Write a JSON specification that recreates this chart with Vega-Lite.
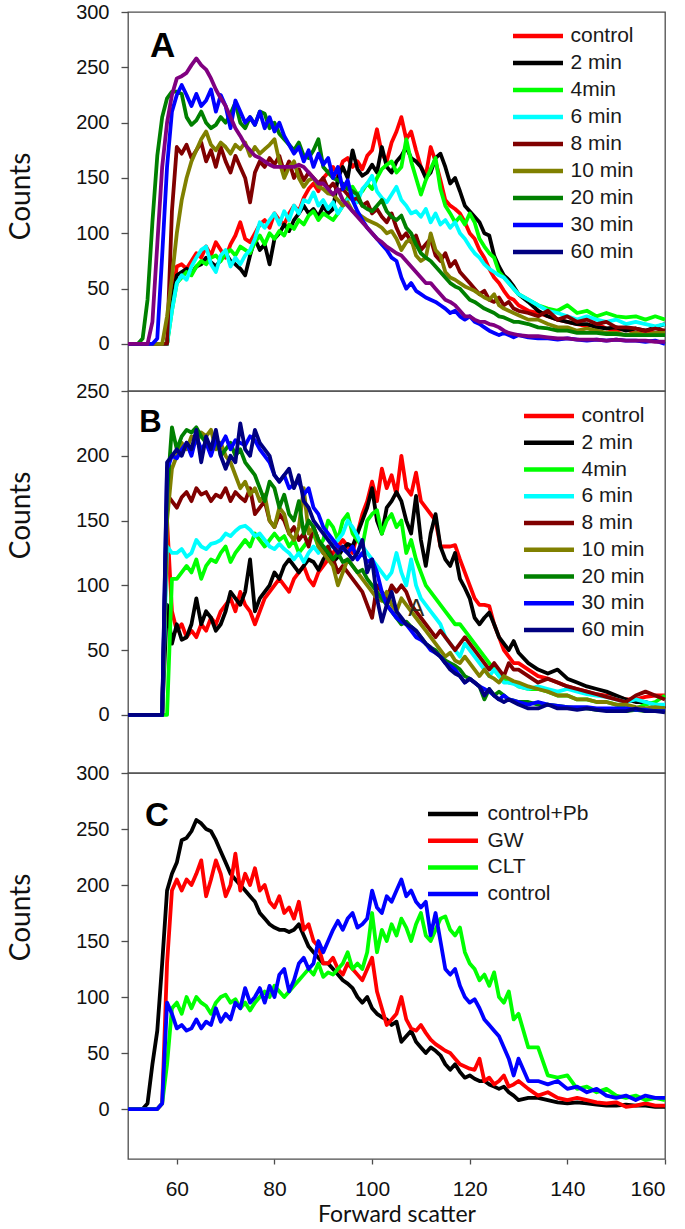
{
"$schema": "https://vega.github.io/schema/vega-lite/v6.json",
"background": "white",
"padding": {"left": 6, "top": 1, "right": 0, "bottom": 0},
"spacing": 0,
"bounds": "flush",
"resolve": {"scale": {"color": "independent"}, "legend": {"color": "independent"}},
"config": {
  "font": "Liberation Sans",
  "view": {"stroke": "#4d4d4d", "strokeWidth": 1.3},
  "axis": {"grid": false, "domain": false, "tickColor": "#4d4d4d", "tickWidth": 1.3, "labelColor": "#111111", "labelFont": "Liberation Sans", "titleFont": "Lato", "titleFontWeight": "normal", "titleColor": "#111111"},
  "axisY": {"tickSize": 7, "labelFontSize": 20, "labelPadding": 12, "titleFontSize": 28},
  "axisX": {"tickSize": 5, "labelFontSize": 21, "labelPadding": 14, "titleFontSize": 23, "titlePadding": 4}
},
"datasets": {
"A": [
{"x":50,"control":0,"2 min":0,"4min":0,"6 min":0,"8 min":0,"10 min":0,"20 min":0,"30 min":0,"60 min":0},
{"x":52,"control":0,"2 min":0,"4min":0,"6 min":0,"8 min":0,"10 min":0,"20 min":0,"30 min":0,"60 min":0},
{"x":53,"control":0,"2 min":0,"4min":0,"6 min":0,"8 min":0,"10 min":0,"20 min":5,"30 min":0,"60 min":0},
{"x":54,"control":0,"2 min":0,"4min":0,"6 min":0,"8 min":0,"10 min":0,"20 min":40,"30 min":0,"60 min":0},
{"x":55,"control":0,"2 min":0,"4min":0,"6 min":0,"8 min":0,"10 min":0,"20 min":110,"30 min":0,"60 min":20},
{"x":56,"control":0,"2 min":0,"4min":0,"6 min":0,"8 min":0,"10 min":0,"20 min":170,"30 min":5,"60 min":90},
{"x":57,"control":0,"2 min":0,"4min":0,"6 min":0,"8 min":0,"10 min":0,"20 min":205,"30 min":80,"60 min":160},
{"x":58,"control":0,"2 min":0,"4min":0,"6 min":0,"8 min":0,"10 min":25,"20 min":222,"30 min":160,"60 min":200},
{"x":59,"control":40,"2 min":40,"4min":30,"6 min":30,"8 min":120,"10 min":60,"20 min":228,"30 min":210,"60 min":225},
{"x":60,"control":70,"2 min":62,"4min":55,"6 min":55,"8 min":178,"10 min":100,"20 min":228,"30 min":225,"60 min":240},
{"x":61,"control":72,"2 min":65,"4min":60,"6 min":62,"8 min":172,"10 min":130,"20 min":226,"30 min":234,"60 min":242},
{"x":62,"control":68,"2 min":68,"4min":65,"6 min":58,"8 min":180,"10 min":150,"20 min":205,"30 min":225,"60 min":245},
{"x":63,"control":75,"2 min":64,"4min":62,"6 min":70,"8 min":168,"10 min":165,"20 min":198,"30 min":215,"60 min":252},
{"x":64,"control":82,"2 min":70,"4min":70,"6 min":78,"8 min":175,"10 min":175,"20 min":202,"30 min":226,"60 min":258},
{"x":65,"control":78,"2 min":72,"4min":75,"6 min":85,"8 min":182,"10 min":185,"20 min":210,"30 min":215,"60 min":252},
{"x":66,"control":88,"2 min":78,"4min":72,"6 min":88,"8 min":165,"10 min":192,"20 min":200,"30 min":220,"60 min":248},
{"x":67,"control":80,"2 min":74,"4min":78,"6 min":72,"8 min":175,"10 min":180,"20 min":195,"30 min":230,"60 min":240},
{"x":68,"control":92,"2 min":70,"4min":80,"6 min":65,"8 min":160,"10 min":175,"20 min":198,"30 min":210,"60 min":230},
{"x":69,"control":85,"2 min":76,"4min":75,"6 min":80,"8 min":178,"10 min":182,"20 min":205,"30 min":225,"60 min":222},
{"x":70,"control":78,"2 min":82,"4min":82,"6 min":85,"8 min":165,"10 min":178,"20 min":200,"30 min":215,"60 min":215},
{"x":71,"control":90,"2 min":75,"4min":85,"6 min":70,"8 min":155,"10 min":172,"20 min":208,"30 min":195,"60 min":205},
{"x":72,"control":98,"2 min":72,"4min":80,"6 min":78,"8 min":170,"10 min":180,"20 min":218,"30 min":220,"60 min":195},
{"x":73,"control":110,"2 min":68,"4min":88,"6 min":72,"8 min":160,"10 min":176,"20 min":200,"30 min":210,"60 min":188},
{"x":74,"control":95,"2 min":62,"4min":85,"6 min":80,"8 min":150,"10 min":182,"20 min":195,"30 min":200,"60 min":180},
{"x":75,"control":92,"2 min":80,"4min":82,"6 min":85,"8 min":128,"10 min":170,"20 min":205,"30 min":205,"60 min":175},
{"x":76,"control":100,"2 min":95,"4min":92,"6 min":95,"8 min":155,"10 min":178,"20 min":198,"30 min":198,"60 min":170},
{"x":77,"control":108,"2 min":85,"4min":98,"6 min":110,"8 min":165,"10 min":172,"20 min":210,"30 min":210,"60 min":168},
{"x":78,"control":112,"2 min":90,"4min":90,"6 min":105,"8 min":160,"10 min":176,"20 min":208,"30 min":195,"60 min":165},
{"x":79,"control":105,"2 min":72,"4min":100,"6 min":112,"8 min":168,"10 min":180,"20 min":195,"30 min":205,"60 min":162},
{"x":80,"control":118,"2 min":95,"4min":95,"6 min":118,"8 min":162,"10 min":185,"20 min":200,"30 min":192,"60 min":160},
{"x":81,"control":112,"2 min":100,"4min":102,"6 min":108,"8 min":170,"10 min":165,"20 min":190,"30 min":200,"60 min":160},
{"x":82,"control":108,"2 min":108,"4min":98,"6 min":120,"8 min":155,"10 min":150,"20 min":185,"30 min":188,"60 min":160},
{"x":83,"control":118,"2 min":102,"4min":108,"6 min":112,"8 min":165,"10 min":160,"20 min":180,"30 min":180,"60 min":160},
{"x":84,"control":125,"2 min":112,"4min":104,"6 min":125,"8 min":150,"10 min":165,"20 min":175,"30 min":172,"60 min":160},
{"x":85,"control":120,"2 min":118,"4min":112,"6 min":118,"8 min":158,"10 min":150,"20 min":182,"30 min":178,"60 min":162},
{"x":86,"control":132,"2 min":125,"4min":108,"6 min":130,"8 min":148,"10 min":142,"20 min":170,"30 min":165,"60 min":160},
{"x":87,"control":140,"2 min":118,"4min":116,"6 min":128,"8 min":155,"10 min":148,"20 min":168,"30 min":175,"60 min":155},
{"x":88,"control":145,"2 min":122,"4min":120,"6 min":137,"8 min":150,"10 min":150,"20 min":175,"30 min":160,"60 min":150},
{"x":89,"control":138,"2 min":115,"4min":112,"6 min":125,"8 min":145,"10 min":142,"20 min":185,"30 min":172,"60 min":145},
{"x":90,"control":150,"2 min":125,"4min":118,"6 min":130,"8 min":150,"10 min":140,"20 min":160,"30 min":162,"60 min":145},
{"x":91,"control":155,"2 min":118,"4min":115,"6 min":122,"8 min":140,"10 min":136,"20 min":155,"30 min":168,"60 min":140},
{"x":92,"control":160,"2 min":122,"4min":112,"6 min":128,"8 min":145,"10 min":135,"20 min":150,"30 min":150,"60 min":135},
{"x":93,"control":152,"2 min":150,"4min":118,"6 min":118,"8 min":138,"10 min":130,"20 min":148,"30 min":160,"60 min":140},
{"x":94,"control":165,"2 min":160,"4min":125,"6 min":125,"8 min":140,"10 min":125,"20 min":145,"30 min":140,"60 min":130},
{"x":95,"control":168,"2 min":150,"4min":132,"6 min":130,"8 min":135,"10 min":128,"20 min":140,"30 min":148,"60 min":125},
{"x":96,"control":160,"2 min":175,"4min":142,"6 min":135,"8 min":130,"10 min":120,"20 min":138,"30 min":130,"60 min":120},
{"x":97,"control":165,"2 min":158,"4min":135,"6 min":128,"8 min":132,"10 min":118,"20 min":135,"30 min":120,"60 min":115},
{"x":98,"control":158,"2 min":152,"4min":138,"6 min":140,"8 min":125,"10 min":115,"20 min":125,"30 min":112,"60 min":110},
{"x":99,"control":170,"2 min":155,"4min":145,"6 min":145,"8 min":128,"10 min":112,"20 min":122,"30 min":105,"60 min":105},
{"x":100,"control":175,"2 min":162,"4min":140,"6 min":152,"8 min":118,"10 min":110,"20 min":120,"30 min":100,"60 min":100},
{"x":101,"control":194,"2 min":155,"4min":150,"6 min":138,"8 min":122,"10 min":108,"20 min":125,"30 min":95,"60 min":95},
{"x":102,"control":172,"2 min":178,"4min":158,"6 min":132,"8 min":115,"10 min":105,"20 min":130,"30 min":90,"60 min":92},
{"x":103,"control":165,"2 min":160,"4min":162,"6 min":128,"8 min":110,"10 min":100,"20 min":120,"30 min":85,"60 min":88},
{"x":104,"control":182,"2 min":155,"4min":165,"6 min":135,"8 min":118,"10 min":102,"20 min":115,"30 min":78,"60 min":85},
{"x":105,"control":192,"2 min":165,"4min":155,"6 min":142,"8 min":105,"10 min":95,"20 min":112,"30 min":75,"60 min":82},
{"x":106,"control":205,"2 min":170,"4min":160,"6 min":130,"8 min":95,"10 min":85,"20 min":116,"30 min":60,"60 min":80},
{"x":107,"control":185,"2 min":178,"4min":185,"6 min":125,"8 min":100,"10 min":92,"20 min":105,"30 min":50,"60 min":75},
{"x":108,"control":192,"2 min":168,"4min":165,"6 min":118,"8 min":92,"10 min":95,"20 min":100,"30 min":55,"60 min":70},
{"x":109,"control":175,"2 min":165,"4min":150,"6 min":120,"8 min":98,"10 min":80,"20 min":90,"30 min":48,"60 min":65},
{"x":110,"control":160,"2 min":160,"4min":135,"6 min":115,"8 min":85,"10 min":75,"20 min":82,"30 min":45,"60 min":60},
{"x":111,"control":152,"2 min":150,"4min":148,"6 min":122,"8 min":90,"10 min":78,"20 min":78,"30 min":42,"60 min":55},
{"x":112,"control":178,"2 min":155,"4min":158,"6 min":110,"8 min":95,"10 min":100,"20 min":75,"30 min":40,"60 min":55},
{"x":113,"control":165,"2 min":168,"4min":168,"6 min":118,"8 min":80,"10 min":85,"20 min":70,"30 min":38,"60 min":50},
{"x":114,"control":148,"2 min":172,"4min":140,"6 min":108,"8 min":75,"10 min":80,"20 min":65,"30 min":35,"60 min":45},
{"x":115,"control":130,"2 min":160,"4min":125,"6 min":112,"8 min":82,"10 min":65,"20 min":60,"30 min":32,"60 min":40},
{"x":116,"control":125,"2 min":145,"4min":118,"6 min":105,"8 min":70,"10 min":60,"20 min":55,"30 min":28,"60 min":38},
{"x":117,"control":122,"2 min":150,"4min":110,"6 min":110,"8 min":75,"10 min":58,"20 min":52,"30 min":30,"60 min":35},
{"x":118,"control":118,"2 min":138,"4min":115,"6 min":100,"8 min":65,"10 min":55,"20 min":50,"30 min":25,"60 min":30},
{"x":119,"control":110,"2 min":125,"4min":108,"6 min":95,"8 min":60,"10 min":52,"20 min":45,"30 min":22,"60 min":25},
{"x":120,"control":100,"2 min":120,"4min":118,"6 min":88,"8 min":55,"10 min":50,"20 min":40,"30 min":25,"60 min":25},
{"x":121,"control":95,"2 min":115,"4min":110,"6 min":82,"8 min":50,"10 min":48,"20 min":38,"30 min":20,"60 min":22},
{"x":122,"control":85,"2 min":110,"4min":95,"6 min":78,"8 min":45,"10 min":45,"20 min":35,"30 min":18,"60 min":20},
{"x":123,"control":78,"2 min":100,"4min":88,"6 min":72,"8 min":48,"10 min":42,"20 min":32,"30 min":15,"60 min":20},
{"x":124,"control":68,"2 min":98,"4min":82,"6 min":68,"8 min":40,"10 min":40,"20 min":30,"30 min":12,"60 min":18},
{"x":125,"control":60,"2 min":80,"4min":78,"6 min":65,"8 min":38,"10 min":45,"20 min":28,"30 min":10,"60 min":17},
{"x":126,"control":55,"2 min":70,"4min":65,"6 min":62,"8 min":42,"10 min":35,"20 min":25,"30 min":8,"60 min":15},
{"x":127,"control":48,"2 min":62,"4min":60,"6 min":60,"8 min":35,"10 min":32,"20 min":24,"30 min":10,"60 min":12},
{"x":128,"control":42,"2 min":58,"4min":55,"6 min":55,"8 min":38,"10 min":30,"20 min":22,"30 min":8,"60 min":10},
{"x":129,"control":40,"2 min":52,"4min":50,"6 min":50,"8 min":32,"10 min":28,"20 min":20,"30 min":6,"60 min":9},
{"x":130,"control":35,"2 min":45,"4min":45,"6 min":45,"8 min":30,"10 min":26,"20 min":20,"30 min":8,"60 min":8},
{"x":132,"control":30,"2 min":38,"4min":40,"6 min":40,"8 min":28,"10 min":22,"20 min":18,"30 min":6,"60 min":7},
{"x":134,"control":28,"2 min":30,"4min":35,"6 min":35,"8 min":25,"10 min":22,"20 min":15,"30 min":5,"60 min":7},
{"x":136,"control":25,"2 min":25,"4min":32,"6 min":30,"8 min":30,"10 min":18,"20 min":14,"30 min":5,"60 min":6},
{"x":138,"control":22,"2 min":22,"4min":30,"6 min":28,"8 min":22,"10 min":15,"20 min":12,"30 min":4,"60 min":5},
{"x":140,"control":20,"2 min":20,"4min":35,"6 min":25,"8 min":25,"10 min":15,"20 min":12,"30 min":5,"60 min":5},
{"x":142,"control":18,"2 min":18,"4min":28,"6 min":22,"8 min":20,"10 min":12,"20 min":10,"30 min":4,"60 min":4},
{"x":144,"control":16,"2 min":18,"4min":30,"6 min":25,"8 min":22,"10 min":14,"20 min":10,"30 min":3,"60 min":4},
{"x":146,"control":18,"2 min":15,"4min":25,"6 min":22,"8 min":18,"10 min":12,"20 min":10,"30 min":4,"60 min":4},
{"x":148,"control":14,"2 min":14,"4min":28,"6 min":20,"8 min":20,"10 min":10,"20 min":9,"30 min":3,"60 min":3},
{"x":150,"control":12,"2 min":15,"4min":25,"6 min":22,"8 min":15,"10 min":10,"20 min":9,"30 min":4,"60 min":4},
{"x":152,"control":14,"2 min":12,"4min":24,"6 min":18,"8 min":15,"10 min":8,"20 min":8,"30 min":3,"60 min":3},
{"x":154,"control":10,"2 min":14,"4min":25,"6 min":20,"8 min":14,"10 min":10,"20 min":8,"30 min":3,"60 min":3},
{"x":156,"control":12,"2 min":12,"4min":22,"6 min":18,"8 min":12,"10 min":8,"20 min":8,"30 min":2,"60 min":3},
{"x":158,"control":10,"2 min":15,"4min":25,"6 min":16,"8 min":14,"10 min":10,"20 min":8,"30 min":3,"60 min":2},
{"x":160,"control":10,"2 min":18,"4min":22,"6 min":18,"8 min":12,"10 min":10,"20 min":8,"30 min":0,"60 min":2}
],
"B": [
{"x":50,"control":0,"2 min":0,"4min":0,"6 min":0,"8 min":0,"10 min":0,"20 min":0,"30 min":0,"60 min":0},
{"x":52,"control":0,"2 min":0,"4min":0,"6 min":0,"8 min":0,"10 min":0,"20 min":0,"30 min":0,"60 min":0},
{"x":54,"control":0,"2 min":0,"4min":0,"6 min":0,"8 min":0,"10 min":0,"20 min":0,"30 min":0,"60 min":0},
{"x":56,"control":0,"2 min":0,"4min":0,"6 min":0,"8 min":0,"10 min":0,"20 min":0,"30 min":0,"60 min":0},
{"x":57,"control":0,"2 min":0,"4min":0,"6 min":0,"8 min":0,"10 min":0,"20 min":0,"30 min":0,"60 min":0},
{"x":58,"control":150,"2 min":85,"4min":0,"6 min":130,"8 min":170,"10 min":150,"20 min":170,"30 min":190,"60 min":195},
{"x":59,"control":80,"2 min":55,"4min":105,"6 min":125,"8 min":165,"10 min":190,"20 min":222,"30 min":200,"60 min":200},
{"x":60,"control":65,"2 min":70,"4min":105,"6 min":125,"8 min":160,"10 min":200,"20 min":205,"30 min":198,"60 min":205},
{"x":61,"control":70,"2 min":58,"4min":110,"6 min":128,"8 min":168,"10 min":210,"20 min":215,"30 min":205,"60 min":200},
{"x":62,"control":60,"2 min":60,"4min":115,"6 min":122,"8 min":172,"10 min":205,"20 min":220,"30 min":210,"60 min":210},
{"x":63,"control":65,"2 min":70,"4min":110,"6 min":125,"8 min":165,"10 min":215,"20 min":218,"30 min":200,"60 min":205},
{"x":64,"control":60,"2 min":90,"4min":120,"6 min":135,"8 min":175,"10 min":210,"20 min":222,"30 min":215,"60 min":220},
{"x":65,"control":70,"2 min":70,"4min":105,"6 min":130,"8 min":170,"10 min":218,"20 min":215,"30 min":205,"60 min":195},
{"x":66,"control":65,"2 min":80,"4min":115,"6 min":128,"8 min":172,"10 min":215,"20 min":210,"30 min":210,"60 min":215},
{"x":67,"control":75,"2 min":75,"4min":120,"6 min":132,"8 min":165,"10 min":220,"20 min":205,"30 min":200,"60 min":205},
{"x":68,"control":70,"2 min":65,"4min":118,"6 min":133,"8 min":170,"10 min":205,"20 min":215,"30 min":212,"60 min":220},
{"x":69,"control":80,"2 min":70,"4min":125,"6 min":135,"8 min":168,"10 min":210,"20 min":200,"30 min":208,"60 min":200},
{"x":70,"control":85,"2 min":80,"4min":130,"6 min":140,"8 min":175,"10 min":200,"20 min":205,"30 min":215,"60 min":190},
{"x":71,"control":90,"2 min":95,"4min":118,"6 min":138,"8 min":165,"10 min":195,"20 min":210,"30 min":205,"60 min":200},
{"x":72,"control":80,"2 min":90,"4min":125,"6 min":142,"8 min":172,"10 min":185,"20 min":200,"30 min":212,"60 min":195},
{"x":73,"control":95,"2 min":85,"4min":130,"6 min":145,"8 min":168,"10 min":175,"20 min":205,"30 min":210,"60 min":225},
{"x":74,"control":85,"2 min":95,"4min":135,"6 min":146,"8 min":165,"10 min":180,"20 min":195,"30 min":208,"60 min":205},
{"x":75,"control":80,"2 min":120,"4min":130,"6 min":143,"8 min":175,"10 min":170,"20 min":190,"30 min":215,"60 min":200},
{"x":76,"control":70,"2 min":80,"4min":140,"6 min":138,"8 min":155,"10 min":175,"20 min":185,"30 min":212,"60 min":220},
{"x":77,"control":80,"2 min":90,"4min":135,"6 min":140,"8 min":160,"10 min":165,"20 min":175,"30 min":205,"60 min":210},
{"x":78,"control":90,"2 min":95,"4min":130,"6 min":135,"8 min":165,"10 min":170,"20 min":165,"30 min":200,"60 min":205},
{"x":79,"control":95,"2 min":100,"4min":135,"6 min":130,"8 min":150,"10 min":150,"20 min":180,"30 min":195,"60 min":200},
{"x":80,"control":100,"2 min":110,"4min":140,"6 min":128,"8 min":145,"10 min":145,"20 min":175,"30 min":185,"60 min":185},
{"x":81,"control":105,"2 min":105,"4min":135,"6 min":132,"8 min":155,"10 min":160,"20 min":160,"30 min":180,"60 min":180},
{"x":82,"control":100,"2 min":115,"4min":138,"6 min":128,"8 min":150,"10 min":155,"20 min":170,"30 min":185,"60 min":185},
{"x":83,"control":95,"2 min":120,"4min":130,"6 min":125,"8 min":140,"10 min":140,"20 min":155,"30 min":175,"60 min":190},
{"x":84,"control":105,"2 min":115,"4min":135,"6 min":120,"8 min":145,"10 min":135,"20 min":150,"30 min":178,"60 min":175},
{"x":85,"control":110,"2 min":110,"4min":125,"6 min":125,"8 min":135,"10 min":145,"20 min":165,"30 min":180,"60 min":185},
{"x":86,"control":115,"2 min":115,"4min":130,"6 min":118,"8 min":140,"10 min":175,"20 min":140,"30 min":170,"60 min":165},
{"x":87,"control":105,"2 min":120,"4min":135,"6 min":125,"8 min":130,"10 min":140,"20 min":150,"30 min":175,"60 min":160},
{"x":88,"control":100,"2 min":118,"4min":140,"6 min":130,"8 min":145,"10 min":145,"20 min":145,"30 min":160,"60 min":150},
{"x":89,"control":110,"2 min":112,"4min":130,"6 min":125,"8 min":135,"10 min":130,"20 min":135,"30 min":155,"60 min":145},
{"x":90,"control":115,"2 min":120,"4min":135,"6 min":130,"8 min":125,"10 min":125,"20 min":130,"30 min":145,"60 min":140},
{"x":91,"control":120,"2 min":125,"4min":150,"6 min":128,"8 min":130,"10 min":120,"20 min":125,"30 min":140,"60 min":135},
{"x":92,"control":125,"2 min":118,"4min":145,"6 min":132,"8 min":120,"10 min":115,"20 min":120,"30 min":135,"60 min":130},
{"x":93,"control":130,"2 min":122,"4min":135,"6 min":135,"8 min":110,"10 min":100,"20 min":125,"30 min":130,"60 min":125},
{"x":94,"control":135,"2 min":128,"4min":150,"6 min":140,"8 min":115,"10 min":110,"20 min":118,"30 min":128,"60 min":130},
{"x":95,"control":130,"2 min":132,"4min":155,"6 min":150,"8 min":110,"10 min":120,"20 min":120,"30 min":125,"60 min":125},
{"x":96,"control":125,"2 min":130,"4min":140,"6 min":145,"8 min":105,"10 min":115,"20 min":115,"30 min":130,"60 min":120},
{"x":97,"control":140,"2 min":140,"4min":135,"6 min":138,"8 min":100,"10 min":110,"20 min":110,"30 min":120,"60 min":125},
{"x":98,"control":155,"2 min":150,"4min":130,"6 min":130,"8 min":95,"10 min":105,"20 min":112,"30 min":125,"60 min":135},
{"x":99,"control":165,"2 min":160,"4min":150,"6 min":125,"8 min":85,"10 min":100,"20 min":105,"30 min":118,"60 min":110},
{"x":100,"control":180,"2 min":175,"4min":155,"6 min":120,"8 min":75,"10 min":95,"20 min":100,"30 min":120,"60 min":120},
{"x":101,"control":165,"2 min":150,"4min":158,"6 min":115,"8 min":100,"10 min":90,"20 min":95,"30 min":110,"60 min":90},
{"x":102,"control":190,"2 min":140,"4min":140,"6 min":110,"8 min":95,"10 min":88,"20 min":90,"30 min":95,"60 min":72},
{"x":103,"control":175,"2 min":160,"4min":150,"6 min":105,"8 min":90,"10 min":95,"20 min":85,"30 min":85,"60 min":85},
{"x":104,"control":185,"2 min":165,"4min":155,"6 min":110,"8 min":100,"10 min":85,"20 min":80,"30 min":80,"60 min":95},
{"x":105,"control":170,"2 min":172,"4min":145,"6 min":125,"8 min":95,"10 min":80,"20 min":75,"30 min":75,"60 min":80},
{"x":106,"control":200,"2 min":165,"4min":150,"6 min":110,"8 min":100,"10 min":90,"20 min":70,"30 min":72,"60 min":75},
{"x":107,"control":175,"2 min":150,"4min":125,"6 min":100,"8 min":95,"10 min":85,"20 min":72,"30 min":70,"60 min":70},
{"x":108,"control":170,"2 min":140,"4min":135,"6 min":120,"8 min":85,"10 min":80,"20 min":68,"30 min":65,"60 min":68},
{"x":109,"control":187,"2 min":169,"4min":120,"6 min":100,"8 min":80,"10 min":75,"20 min":65,"30 min":60,"60 min":65},
{"x":110,"control":165,"2 min":135,"4min":110,"6 min":90,"8 min":75,"10 min":70,"20 min":60,"30 min":58,"60 min":60},
{"x":111,"control":160,"2 min":115,"4min":100,"6 min":85,"8 min":70,"10 min":65,"20 min":55,"30 min":55,"60 min":55},
{"x":112,"control":155,"2 min":140,"4min":95,"6 min":80,"8 min":65,"10 min":60,"20 min":52,"30 min":50,"60 min":52},
{"x":113,"control":150,"2 min":155,"4min":90,"6 min":75,"8 min":60,"10 min":55,"20 min":50,"30 min":48,"60 min":48},
{"x":114,"control":130,"2 min":130,"4min":85,"6 min":70,"8 min":65,"10 min":50,"20 min":45,"30 min":45,"60 min":45},
{"x":115,"control":130,"2 min":120,"4min":80,"6 min":60,"8 min":60,"10 min":45,"20 min":42,"30 min":40,"60 min":40},
{"x":116,"control":130,"2 min":115,"4min":75,"6 min":55,"8 min":55,"10 min":48,"20 min":40,"30 min":38,"60 min":35},
{"x":117,"control":131,"2 min":125,"4min":70,"6 min":50,"8 min":50,"10 min":42,"20 min":38,"30 min":35,"60 min":32},
{"x":118,"control":120,"2 min":105,"4min":70,"6 min":45,"8 min":55,"10 min":40,"20 min":35,"30 min":30,"60 min":30},
{"x":119,"control":110,"2 min":98,"4min":65,"6 min":55,"8 min":60,"10 min":45,"20 min":30,"30 min":25,"60 min":25},
{"x":120,"control":100,"2 min":90,"4min":60,"6 min":50,"8 min":55,"10 min":40,"20 min":28,"30 min":28,"60 min":28},
{"x":121,"control":90,"2 min":75,"4min":55,"6 min":45,"8 min":50,"10 min":35,"20 min":25,"30 min":25,"60 min":25},
{"x":122,"control":85,"2 min":70,"4min":50,"6 min":40,"8 min":45,"10 min":30,"20 min":22,"30 min":22,"60 min":22},
{"x":123,"control":85,"2 min":75,"4min":45,"6 min":35,"8 min":40,"10 min":35,"20 min":12,"30 min":20,"60 min":15},
{"x":124,"control":84,"2 min":79,"4min":40,"6 min":30,"8 min":35,"10 min":30,"20 min":20,"30 min":18,"60 min":20},
{"x":125,"control":70,"2 min":70,"4min":35,"6 min":35,"8 min":40,"10 min":28,"20 min":15,"30 min":15,"60 min":15},
{"x":126,"control":60,"2 min":60,"4min":30,"6 min":30,"8 min":35,"10 min":25,"20 min":18,"30 min":12,"60 min":12},
{"x":127,"control":50,"2 min":55,"4min":28,"6 min":25,"8 min":30,"10 min":30,"20 min":15,"30 min":15,"60 min":10},
{"x":128,"control":45,"2 min":50,"4min":25,"6 min":25,"8 min":40,"10 min":28,"20 min":12,"30 min":12,"60 min":12},
{"x":129,"control":40,"2 min":57,"4min":25,"6 min":24,"8 min":35,"10 min":26,"20 min":11,"30 min":11,"60 min":10},
{"x":130,"control":40,"2 min":48,"4min":22,"6 min":22,"8 min":35,"10 min":25,"20 min":10,"30 min":10,"60 min":8},
{"x":132,"control":35,"2 min":40,"4min":20,"6 min":20,"8 min":30,"10 min":22,"20 min":10,"30 min":8,"60 min":5},
{"x":134,"control":30,"2 min":35,"4min":20,"6 min":22,"8 min":25,"10 min":20,"20 min":8,"30 min":10,"60 min":5},
{"x":136,"control":28,"2 min":32,"4min":18,"6 min":20,"8 min":28,"10 min":18,"20 min":8,"30 min":8,"60 min":8},
{"x":138,"control":25,"2 min":35,"4min":15,"6 min":18,"8 min":25,"10 min":15,"20 min":7,"30 min":7,"60 min":5},
{"x":140,"control":22,"2 min":28,"4min":15,"6 min":20,"8 min":22,"10 min":15,"20 min":6,"30 min":6,"60 min":5},
{"x":142,"control":20,"2 min":25,"4min":12,"6 min":18,"8 min":20,"10 min":12,"20 min":5,"30 min":6,"60 min":4},
{"x":144,"control":18,"2 min":22,"4min":12,"6 min":16,"8 min":18,"10 min":12,"20 min":5,"30 min":6,"60 min":5},
{"x":146,"control":16,"2 min":20,"4min":10,"6 min":15,"8 min":16,"10 min":10,"20 min":4,"30 min":5,"60 min":4},
{"x":148,"control":15,"2 min":18,"4min":10,"6 min":14,"8 min":14,"10 min":10,"20 min":4,"30 min":5,"60 min":3},
{"x":150,"control":14,"2 min":15,"4min":8,"6 min":12,"8 min":12,"10 min":8,"20 min":3,"30 min":5,"60 min":3},
{"x":152,"control":12,"2 min":12,"4min":5,"6 min":10,"8 min":10,"10 min":8,"20 min":3,"30 min":5,"60 min":3},
{"x":154,"control":12,"2 min":10,"4min":5,"6 min":12,"8 min":15,"10 min":6,"20 min":4,"30 min":4,"60 min":5},
{"x":156,"control":14,"2 min":10,"4min":8,"6 min":10,"8 min":18,"10 min":5,"20 min":3,"30 min":4,"60 min":3},
{"x":158,"control":15,"2 min":8,"4min":10,"6 min":8,"8 min":15,"10 min":6,"20 min":3,"30 min":3,"60 min":3},
{"x":160,"control":15,"2 min":5,"4min":15,"6 min":8,"8 min":12,"10 min":5,"20 min":3,"30 min":3,"60 min":2}
],
"C": [
{"x":50,"control+Pb":0,"GW":0,"CLT":0,"control":0},
{"x":52,"control+Pb":0,"GW":0,"CLT":0,"control":0},
{"x":53,"control+Pb":0,"GW":0,"CLT":0,"control":0},
{"x":54,"control+Pb":5,"GW":0,"CLT":0,"control":0},
{"x":55,"control+Pb":40,"GW":0,"CLT":0,"control":0},
{"x":56,"control+Pb":70,"GW":0,"CLT":0,"control":0},
{"x":57,"control+Pb":130,"GW":5,"CLT":5,"control":5},
{"x":58,"control+Pb":195,"GW":130,"CLT":40,"control":95},
{"x":59,"control+Pb":210,"GW":195,"CLT":90,"control":85},
{"x":60,"control+Pb":220,"GW":205,"CLT":95,"control":72},
{"x":61,"control+Pb":240,"GW":195,"CLT":85,"control":75},
{"x":62,"control+Pb":242,"GW":205,"CLT":100,"control":70},
{"x":63,"control+Pb":248,"GW":200,"CLT":90,"control":72},
{"x":64,"control+Pb":258,"GW":210,"CLT":100,"control":80},
{"x":65,"control+Pb":255,"GW":222,"CLT":95,"control":72},
{"x":66,"control+Pb":250,"GW":190,"CLT":92,"control":78},
{"x":67,"control+Pb":248,"GW":205,"CLT":85,"control":75},
{"x":68,"control+Pb":240,"GW":222,"CLT":95,"control":90},
{"x":69,"control+Pb":230,"GW":210,"CLT":100,"control":78},
{"x":70,"control+Pb":220,"GW":190,"CLT":102,"control":85},
{"x":71,"control+Pb":210,"GW":200,"CLT":95,"control":80},
{"x":72,"control+Pb":205,"GW":228,"CLT":98,"control":95},
{"x":73,"control+Pb":200,"GW":195,"CLT":90,"control":90},
{"x":74,"control+Pb":195,"GW":210,"CLT":95,"control":108},
{"x":75,"control+Pb":190,"GW":200,"CLT":88,"control":95},
{"x":76,"control+Pb":185,"GW":215,"CLT":95,"control":100},
{"x":77,"control+Pb":175,"GW":195,"CLT":100,"control":108},
{"x":78,"control+Pb":170,"GW":200,"CLT":105,"control":95},
{"x":79,"control+Pb":165,"GW":185,"CLT":100,"control":110},
{"x":80,"control+Pb":162,"GW":180,"CLT":110,"control":100},
{"x":81,"control+Pb":160,"GW":190,"CLT":105,"control":120},
{"x":82,"control+Pb":160,"GW":175,"CLT":100,"control":125},
{"x":83,"control+Pb":158,"GW":180,"CLT":105,"control":105},
{"x":84,"control+Pb":160,"GW":170,"CLT":110,"control":115},
{"x":85,"control+Pb":165,"GW":185,"CLT":115,"control":130},
{"x":86,"control+Pb":155,"GW":160,"CLT":120,"control":135},
{"x":87,"control+Pb":145,"GW":165,"CLT":125,"control":125},
{"x":88,"control+Pb":140,"GW":150,"CLT":120,"control":130},
{"x":89,"control+Pb":135,"GW":145,"CLT":130,"control":150},
{"x":90,"control+Pb":130,"GW":130,"CLT":118,"control":140},
{"x":91,"control+Pb":130,"GW":130,"CLT":122,"control":150},
{"x":92,"control+Pb":125,"GW":135,"CLT":120,"control":160},
{"x":93,"control+Pb":120,"GW":125,"CLT":125,"control":168},
{"x":94,"control+Pb":115,"GW":120,"CLT":130,"control":160},
{"x":95,"control+Pb":112,"GW":130,"CLT":140,"control":170},
{"x":96,"control+Pb":108,"GW":125,"CLT":125,"control":175},
{"x":97,"control+Pb":100,"GW":120,"CLT":130,"control":162},
{"x":98,"control+Pb":95,"GW":115,"CLT":125,"control":165},
{"x":99,"control+Pb":100,"GW":125,"CLT":140,"control":170},
{"x":100,"control+Pb":90,"GW":135,"CLT":175,"control":195},
{"x":101,"control+Pb":85,"GW":105,"CLT":140,"control":180},
{"x":102,"control+Pb":82,"GW":90,"CLT":160,"control":175},
{"x":103,"control+Pb":80,"GW":75,"CLT":150,"control":190},
{"x":104,"control+Pb":75,"GW":80,"CLT":165,"control":185},
{"x":105,"control+Pb":78,"GW":85,"CLT":155,"control":195},
{"x":106,"control+Pb":60,"GW":100,"CLT":170,"control":205},
{"x":107,"control+Pb":65,"GW":80,"CLT":162,"control":190},
{"x":108,"control+Pb":70,"GW":72,"CLT":150,"control":195},
{"x":109,"control+Pb":60,"GW":70,"CLT":165,"control":185},
{"x":110,"control+Pb":55,"GW":75,"CLT":175,"control":180},
{"x":111,"control+Pb":50,"GW":68,"CLT":155,"control":185},
{"x":112,"control+Pb":55,"GW":62,"CLT":150,"control":155},
{"x":113,"control+Pb":52,"GW":58,"CLT":160,"control":175},
{"x":114,"control+Pb":48,"GW":55,"CLT":170,"control":150},
{"x":115,"control+Pb":40,"GW":52,"CLT":172,"control":125},
{"x":116,"control+Pb":35,"GW":50,"CLT":160,"control":120},
{"x":117,"control+Pb":40,"GW":45,"CLT":155,"control":125},
{"x":118,"control+Pb":33,"GW":40,"CLT":162,"control":110},
{"x":119,"control+Pb":28,"GW":38,"CLT":140,"control":100},
{"x":120,"control+Pb":30,"GW":36,"CLT":130,"control":95},
{"x":121,"control+Pb":27,"GW":35,"CLT":125,"control":98},
{"x":122,"control+Pb":25,"GW":45,"CLT":115,"control":90},
{"x":123,"control+Pb":25,"GW":25,"CLT":120,"control":80},
{"x":124,"control+Pb":22,"GW":28,"CLT":110,"control":75},
{"x":125,"control+Pb":20,"GW":22,"CLT":122,"control":70},
{"x":126,"control+Pb":18,"GW":25,"CLT":100,"control":65},
{"x":127,"control+Pb":20,"GW":30,"CLT":95,"control":55},
{"x":128,"control+Pb":15,"GW":20,"CLT":105,"control":45},
{"x":129,"control+Pb":12,"GW":22,"CLT":80,"control":30},
{"x":130,"control+Pb":8,"GW":25,"CLT":85,"control":45},
{"x":132,"control+Pb":10,"GW":18,"CLT":55,"control":25},
{"x":134,"control+Pb":10,"GW":12,"CLT":55,"control":25},
{"x":136,"control+Pb":8,"GW":15,"CLT":30,"control":22},
{"x":138,"control+Pb":6,"GW":10,"CLT":28,"control":25},
{"x":140,"control+Pb":5,"GW":8,"CLT":30,"control":18},
{"x":142,"control+Pb":6,"GW":10,"CLT":18,"control":20},
{"x":144,"control+Pb":5,"GW":8,"CLT":20,"control":15},
{"x":146,"control+Pb":4,"GW":6,"CLT":15,"control":18},
{"x":148,"control+Pb":3,"GW":5,"CLT":18,"control":12},
{"x":150,"control+Pb":3,"GW":6,"CLT":12,"control":10},
{"x":152,"control+Pb":4,"GW":2,"CLT":10,"control":12},
{"x":154,"control+Pb":3,"GW":3,"CLT":12,"control":8},
{"x":156,"control+Pb":3,"GW":5,"CLT":8,"control":12},
{"x":158,"control+Pb":2,"GW":3,"CLT":10,"control":10},
{"x":160,"control+Pb":2,"GW":3,"CLT":8,"control":10}
]
},
"vconcat": [
{
  "width": 537, "height": 379,
  "data": {"name": "A"},
  "layer": [
    {
      "transform": [{"fold": ["control","2 min","4min","6 min","8 min","10 min","20 min","30 min"], "as": ["series","count"]}],
      "mark": {"type": "line", "strokeWidth": 3.8, "strokeJoin": "round"},
      "encoding": {
        "x": {"field": "x", "type": "quantitative", "scale": {"domain": [50,160], "nice": false, "zero": false}, "axis": null},
        "y": {"field": "count", "type": "quantitative", "title": "Counts", "scale": {"domain": [-42.5,300], "nice": false, "zero": false}, "axis": {"values": [0,50,100,150,200,250,300], "titleX": -93, "titleY": 184}},
        "color": {"field": "series", "type": "nominal",
          "scale": {"domain": ["control","2 min","4min","6 min","8 min","10 min","20 min","30 min","60 min"], "range": ["#ff0000","#000000","#00ff00","#00ffff","#800000","#808000","#008000","#0000ff","#000080"]},
          "legend": {"title": null, "orient": "none", "legendX": 385, "legendY": 13.5, "symbolType": "M-5,0H5", "symbolSize": 100, "symbolStrokeWidth": 4.5, "symbolOffset": 14.5, "labelOffset": 22, "labelFontSize": 21, "labelFont": "Liberation Sans", "labelColor": "#1a1a1a", "rowPadding": 5, "padding": 0, "labelExpr": "datum.label == '4min' ? '\u00a04min' : datum.label"}}
      }
    },
    {
      "mark": {"type": "line", "strokeWidth": 3.8, "strokeJoin": "round", "color": "#800080"},
      "encoding": {
        "x": {"field": "x", "type": "quantitative", "axis": null},
        "y": {"field": "60 min", "type": "quantitative", "title": "Counts"}
      }
    },
    {
      "data": {"values": [{"x": 54.5, "y": 259, "t": "A"}]},
      "mark": {"type": "text", "fontSize": 35, "fontWeight": "bold", "align": "left", "baseline": "alphabetic", "color": "#000000"},
      "encoding": {
        "x": {"field": "x", "type": "quantitative", "axis": null},
        "y": {"field": "y", "type": "quantitative", "title": "Counts"},
        "text": {"field": "t"}
      }
    }
  ]
},
{
  "width": 537, "height": 382,
  "data": {"name": "B"},
  "layer": [
    {
      "transform": [{"fold": ["control","2 min","4min","6 min","8 min","10 min","20 min","30 min","60 min"], "as": ["series","count"]}],
      "mark": {"type": "line", "strokeWidth": 3.8, "strokeJoin": "round"},
      "encoding": {
        "x": {"field": "x", "type": "quantitative", "scale": {"domain": [50,160], "nice": false, "zero": false}, "axis": null},
        "y": {"field": "count", "type": "quantitative", "title": "Counts", "scale": {"domain": [-44.8,250], "nice": false, "zero": false}, "axis": {"values": [0,50,100,150,200,250], "titleX": -93, "titleY": 124}},
        "color": {"field": "series", "type": "nominal",
          "scale": {"domain": ["control","2 min","4min","6 min","8 min","10 min","20 min","30 min","60 min"], "range": ["#ff0000","#000000","#00ff00","#00ffff","#800000","#808000","#008000","#0000ff","#000080"]},
          "legend": {"title": null, "orient": "none", "legendX": 396, "legendY": 14.5, "symbolType": "M-5,0H5", "symbolSize": 100, "symbolStrokeWidth": 4.5, "symbolOffset": 14.5, "labelOffset": 22, "labelFontSize": 21, "labelFont": "Liberation Sans", "labelColor": "#1a1a1a", "rowPadding": 4.75, "padding": 0, "labelExpr": "datum.label == '4min' ? '\u00a04min' : datum.label"}}
      }
    },
    {
      "data": {"values": [{"x": 52.3, "y": 218, "t": "B"}]},
      "mark": {"type": "text", "fontSize": 31, "fontWeight": "bold", "align": "left", "baseline": "alphabetic", "color": "#000000"},
      "encoding": {
        "x": {"field": "x", "type": "quantitative", "axis": null},
        "y": {"field": "y", "type": "quantitative", "title": "Counts"},
        "text": {"field": "t"}
      }
    },
    {
      "data": {"values": [{"x": 107.4, "y": 76, "t": "A"}]},
      "mark": {"type": "text", "fontSize": 24, "align": "left", "baseline": "alphabetic", "color": "#2b2b1e"},
      "encoding": {
        "x": {"field": "x", "type": "quantitative", "axis": null},
        "y": {"field": "y", "type": "quantitative", "title": "Counts"},
        "text": {"field": "t"}
      }
    }
  ]
},
{
  "width": 537, "height": 386,
  "data": {"name": "C"},
  "layer": [
    {
      "transform": [{"fold": ["control+Pb","GW","CLT","control"], "as": ["series","count"]}],
      "mark": {"type": "line", "strokeWidth": 3.8, "strokeJoin": "round"},
      "encoding": {
        "x": {"field": "x", "type": "quantitative", "title": "Forward scatter", "scale": {"domain": [50,160], "nice": false, "zero": false}, "axis": {"values": [60,80,100,120,140,160]}},
        "y": {"field": "count", "type": "quantitative", "title": "Counts", "scale": {"domain": [-44.6,300], "nice": false, "zero": false}, "axis": {"values": [0,50,100,150,200,250,300], "titleX": -93, "titleY": 144}},
        "color": {"field": "series", "type": "nominal",
          "scale": {"domain": ["control+Pb","GW","CLT","control"], "range": ["#000000","#ff0000","#00ff00","#0000ff"]},
          "legend": {"title": null, "orient": "none", "legendX": 300, "legendY": 30.5, "symbolType": "M-5,0H5", "symbolSize": 100, "symbolStrokeWidth": 4.5, "symbolOffset": 14.5, "labelOffset": 24, "labelFontSize": 21, "labelFont": "Liberation Sans", "labelColor": "#1a1a1a", "rowPadding": 4.7, "padding": 0}}
      }
    },
    {
      "data": {"values": [{"x": 53.5, "y": 253, "t": "C"}]},
      "mark": {"type": "text", "fontSize": 33, "fontWeight": "bold", "align": "left", "baseline": "alphabetic", "color": "#000000"},
      "encoding": {
        "x": {"field": "x", "type": "quantitative", "title": "Forward scatter"},
        "y": {"field": "y", "type": "quantitative", "title": "Counts"},
        "text": {"field": "t"}
      }
    }
  ]
}
]
}
